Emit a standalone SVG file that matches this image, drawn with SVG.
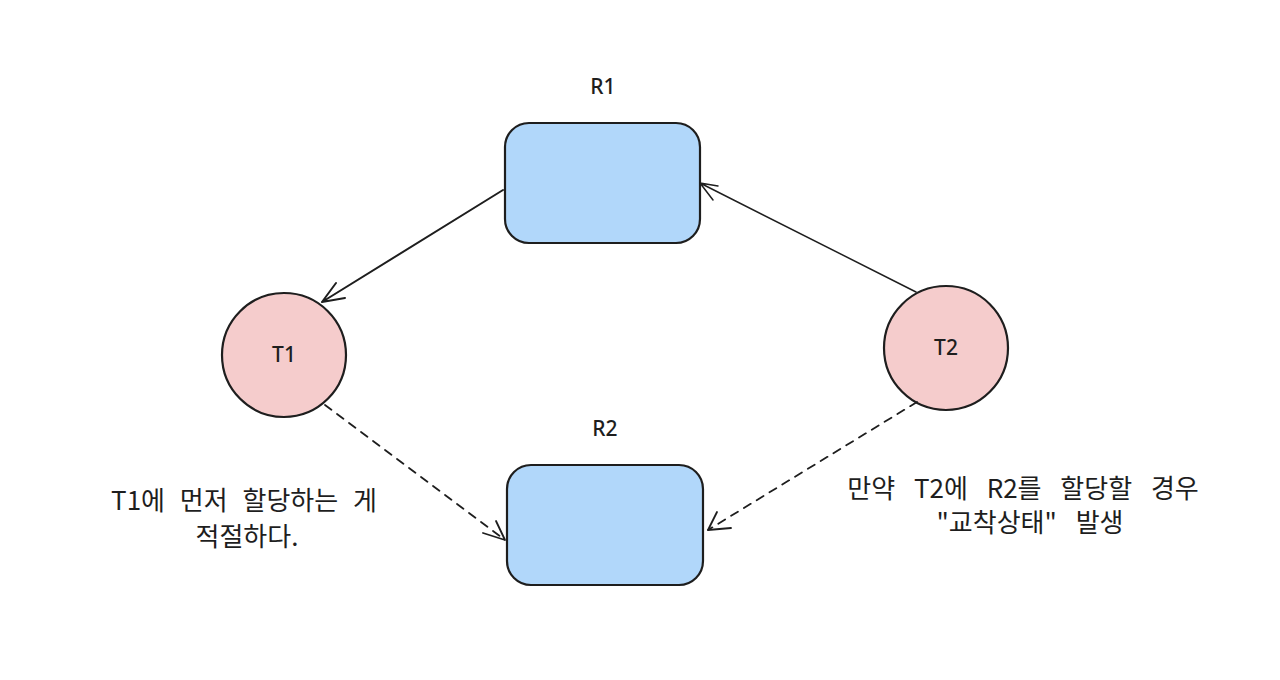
<svg xmlns="http://www.w3.org/2000/svg" width="1280" height="680" viewBox="0 0 1280 680">
<style>
.box{fill:#b1d7fa;stroke:#1e1e1e;stroke-width:2.2}
.circ{fill:#f5cccc;stroke:#1e1e1e;stroke-width:2.2}
.lbl{font-family:"Noto Sans","Noto Sans CJK KR",sans-serif;font-size:21px;font-weight:500;fill:#1e1e1e;text-anchor:middle}
.txt{font-family:"Noto Sans CJK KR","Noto Sans",sans-serif;font-size:26px;word-spacing:9px;fill:#1e1e1e;text-anchor:middle}
.wide{word-spacing:13px}
.edge{fill:none;stroke:#1e1e1e;stroke-linecap:round;stroke-linejoin:round}
</style>
<rect width="1280" height="680" fill="#ffffff"/>
<g id="R1">
<rect class="box" x="505" y="123" width="195" height="120" rx="24"/>
<text class="lbl" x="603" y="94">R1</text>
</g>
<g id="R2">
<rect class="box" x="507" y="465" width="196" height="120" rx="24"/>
<text class="lbl" x="605" y="436">R2</text>
</g>
<g id="T1">
<circle class="circ" cx="284" cy="355" r="62"/>
<text class="lbl" x="284" y="362">T1</text>
</g>
<g id="T2">
<circle class="circ" cx="946" cy="348" r="62"/>
<text class="lbl" x="946" y="355">T2</text>
</g>
<g id="connectors">
<path class="edge" stroke-width="2" d="M503 190 L322 302 M322 302 L336 283 M322 302 L345 298"/>
<path class="edge" stroke-width="1.5" d="M916 292 L700 183 M700 183 L713 200 M700 183 L718 186"/>
<path class="edge" stroke-width="1.8" stroke-dasharray="8 7" d="M325 405 L505 540"/>
<path class="edge" stroke-width="1.8" d="M505 540 L496 521 M505 540 L483 533"/>
<path class="edge" stroke-width="1.8" stroke-dasharray="8 7" d="M917 402 L708 530"/>
<path class="edge" stroke-width="1.8" d="M708 530 L717 512 M708 530 L731 528"/>
</g>
<g id="note-left">
<text class="txt" x="244" y="510">T1에 먼저 할당하는 게</text>
<text class="txt" x="247" y="546">적절하다.</text>
</g>
<g id="note-right">
<text class="txt wide" x="1023" y="498">만약 T2에 R2를 할당할 경우</text>
<text class="txt wide" x="1030" y="532">"교착상태" 발생</text>
</g>
</svg>
